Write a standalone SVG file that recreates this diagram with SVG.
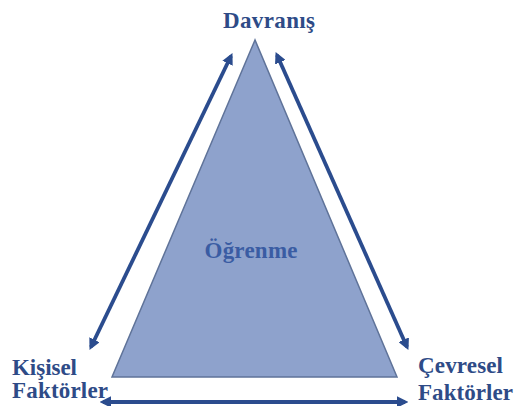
<svg xmlns="http://www.w3.org/2000/svg" width="516" height="406" viewBox="0 0 516 406">
<style>
.lbl{font-family:"Liberation Serif","Times New Roman",serif;font-weight:bold;font-size:23px;fill:#2E4B87}
.conn{stroke:#2B4C8E;stroke-width:3.8;fill:none;marker-start:url(#ah);marker-end:url(#ah)}
</style>
<defs>
<marker id="ah" viewBox="0 0 10 10" refX="7" refY="5" markerWidth="3" markerHeight="3" orient="auto-start-reverse" markerUnits="strokeWidth">
<path d="M0,0 L10,5 L0,10 z" fill="#2B4C8E"/>
</marker>
</defs>
<rect width="516" height="406" fill="#ffffff"/>
<g id="ogrenme">
<polygon points="255,40 112,377 397,377" fill="#8EA2CC" stroke="#5F7399" stroke-width="1.5"/>
<text class="lbl" x="251" y="258" text-anchor="middle" style="fill:#3A5CA3" textLength="93">Öğrenme</text>
</g>
<g id="davranis">
<text class="lbl" x="269" y="28" text-anchor="middle" textLength="92">Davranış</text>
</g>
<g id="kisisel">
<text class="lbl" x="12" y="375" textLength="65">Kişisel</text>
<text class="lbl" x="12" y="398" textLength="96">Faktörler</text>
</g>
<g id="cevresel">
<text class="lbl" x="418" y="373" textLength="85">Çevresel</text>
<text class="lbl" x="418" y="400" textLength="95">Faktörler</text>
</g>
<g id="connectors">
<line class="conn" x1="231" y1="56" x2="91" y2="347"/>
<line class="conn" x1="277" y1="55" x2="407" y2="347"/>
<line class="conn" x1="103" y1="402" x2="405" y2="402"/>
</g>
</svg>
